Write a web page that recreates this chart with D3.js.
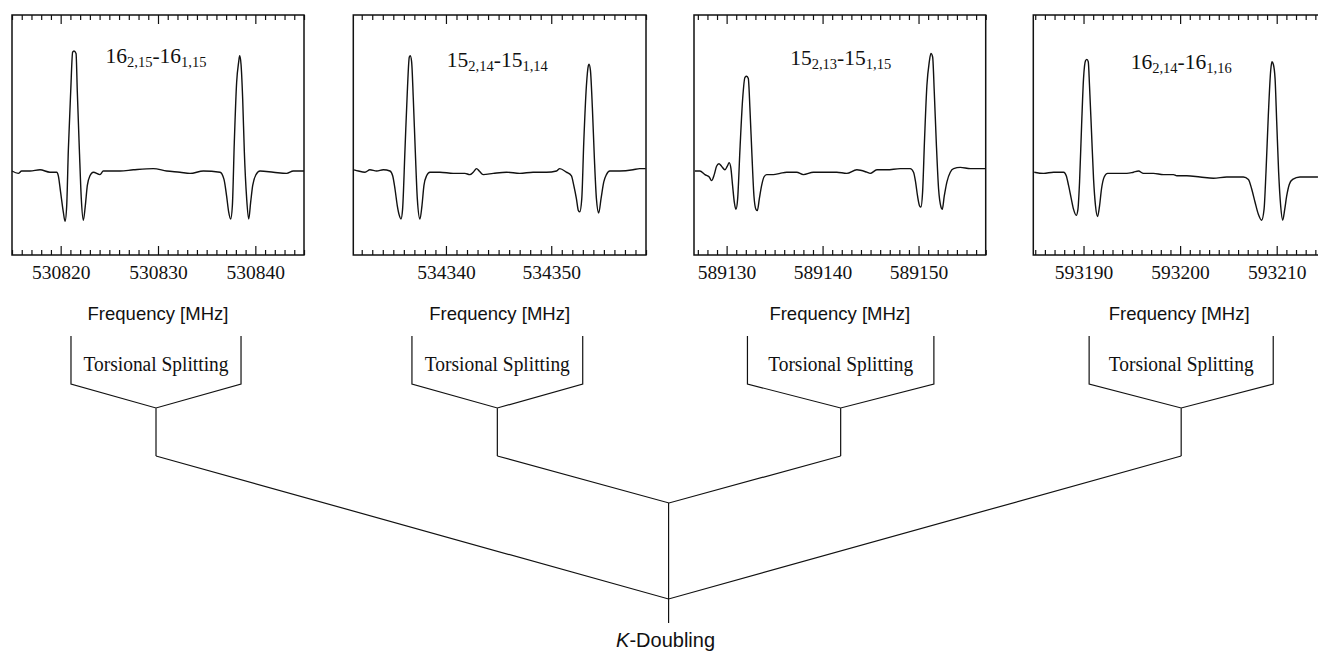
<!DOCTYPE html>
<html>
<head>
<meta charset="utf-8">
<script src="https://cdn.jsdelivr.net/npm/d3@7"></script>
<style>
  html, body { margin: 0; padding: 0; background: #fff; }
  svg { display: block; }
</style>
</head>
<body>
<svg id="chart" width="1318" height="652"></svg>
<script>
// ---------------- DATA ----------------
// Frequency windows (MHz) of the four spectra
const freqDomains = [
  [530815.0, 530845.0],
  [534331.2, 534359.0],
  [589126.6, 589157.0],
  [593184.8, 593215.0]
];
// Labelled (major) tick values
const majorTicks = [
  [530820, 530830, 530840],
  [534340, 534350],
  [589130, 589140, 589150],
  [593190, 593200, 593210]
];
// Transition labels: [J, Ka,Kc, J, Ka,Kc]
const transitionLabels = [
  ["16", "2,15", "16", "1,15"],
  ["15", "2,14", "15", "1,14"],
  ["15", "2,13", "15", "1,15"],
  ["16", "2,14", "16", "1,16"]
];
// Torsional components (MHz) of each transition (bracket legs)
const torsionalComponents = [
  [530821.06, 530838.53],
  [534336.77, 534352.99],
  [589132.17, 589151.60],
  [593190.58, 593209.64]
];
// K-doubling pairs (panel indices)
const kDoublingPairs = [[1, 2], [0, 3]];

// Spectra: [frequency MHz, intensity (arb. units, baseline 0)]
const spectrum1 = [
  [530815.00,0.00],[530815.65,-0.02],[530815.99,0.00],[530816.85,0.00],[530817.88,0.01],
  [530818.90,-0.01],[530819.59,-0.01],[530819.76,-0.04],[530820.00,-0.18],[530820.27,-0.34],
  [530820.45,-0.42],[530820.62,-0.29],[530820.79,0.18],[530821.03,0.66],[530821.23,0.99],
  [530821.37,1.00],[530821.58,0.98],[530821.71,0.66],[530821.92,0.18],[530822.12,-0.23],
  [530822.33,-0.41],[530822.53,-0.29],[530822.74,-0.12],[530823.01,-0.04],[530823.36,-0.01],
  [530824.04,-0.03],[530824.38,0.00],[530826.10,0.00],[530827.47,0.01],[530829.52,0.02],
  [530830.89,0.00],[530832.26,-0.01],[530833.29,-0.02],[530834.66,0.00],[530836.37,-0.01],
  [530836.78,-0.07],[530837.05,-0.21],[530837.26,-0.34],[530837.47,-0.40],[530837.64,-0.29],
  [530837.84,0.24],[530838.08,0.74],[530838.29,0.91],[530838.39,0.96],[530838.53,0.89],
  [530838.70,0.60],[530838.87,0.16],[530839.11,-0.23],[530839.32,-0.40],[530839.52,-0.26],
  [530839.73,-0.12],[530840.07,-0.03],[530840.48,0.00],[530841.85,-0.01],[530843.22,-0.02],
  [530843.90,0.00],[530845.00,0.00]
];
const spectrum2 = [
  [534331.27,0.01],[534331.68,0.00],[534332.31,-0.01],[534332.78,0.01],[534333.42,0.00],
  [534334.05,0.01],[534334.68,0.00],[534334.94,-0.04],[534335.16,-0.15],[534335.38,-0.29],
  [534335.57,-0.37],[534335.73,-0.40],[534335.88,-0.32],[534336.11,0.18],[534336.33,0.66],
  [534336.52,0.95],[534336.61,0.96],[534336.74,0.91],[534336.90,0.60],[534337.09,0.16],
  [534337.28,-0.23],[534337.53,-0.40],[534337.72,-0.29],[534337.91,-0.12],[534338.16,-0.04],
  [534338.48,-0.01],[534339.43,-0.01],[534340.69,-0.02],[534341.80,-0.02],[534342.27,-0.03],
  [534342.59,-0.01],[534342.91,0.02],[534343.16,0.00],[534343.54,-0.03],[534344.49,-0.02],
  [534345.75,-0.01],[534347.02,-0.02],[534348.28,-0.01],[534349.55,-0.01],[534350.50,0.00],
  [534350.81,0.02],[534351.44,-0.01],[534351.92,-0.04],[534352.14,-0.12],[534352.39,-0.23],
  [534352.58,-0.33],[534352.71,-0.34],[534352.90,-0.23],[534353.09,0.24],[534353.34,0.71],
  [534353.53,0.88],[534353.59,0.89],[534353.72,0.84],[534353.91,0.52],[534354.10,0.10],
  [534354.29,-0.23],[534354.51,-0.35],[534354.73,-0.23],[534354.99,-0.09],[534355.24,-0.03],
  [534355.56,0.00],[534356.50,0.00],[534357.77,0.01],[534358.40,0.02],[534358.97,0.02]
];
const spectrum3 = [
  [589126.69,0.00],[589127.21,0.00],[589127.74,-0.03],[589128.19,-0.05],[589128.43,-0.08],
  [589128.71,-0.03],[589128.95,0.04],[589129.20,0.06],[589129.47,0.04],[589129.82,0.01],
  [589130.07,0.04],[589130.27,0.07],[589130.45,0.02],[589130.62,-0.12],[589130.80,-0.26],
  [589130.97,-0.32],[589131.15,-0.23],[589131.39,0.18],[589131.67,0.60],[589131.91,0.78],
  [589132.09,0.79],[589132.26,0.77],[589132.43,0.52],[589132.64,0.13],[589132.85,-0.21],
  [589133.06,-0.32],[589133.20,-0.33],[589133.41,-0.23],[589133.65,-0.12],[589133.89,-0.05],
  [589134.17,-0.03],[589134.87,-0.03],[589135.56,-0.02],[589136.26,-0.01],[589137.30,-0.01],
  [589138.00,-0.03],[589139.04,-0.01],[589140.44,-0.01],[589141.48,-0.01],[589142.52,-0.02],
  [589143.57,0.01],[589144.61,-0.01],[589144.96,-0.02],[589145.66,0.01],[589146.70,0.01],
  [589148.09,0.02],[589149.13,0.02],[589149.48,-0.01],[589149.69,-0.09],[589149.90,-0.21],
  [589150.11,-0.29],[589150.25,-0.30],[589150.42,-0.18],[589150.63,0.27],[589150.87,0.71],
  [589151.12,0.91],[589151.29,0.98],[589151.47,0.95],[589151.64,0.66],[589151.85,0.24],
  [589152.09,-0.15],[589152.34,-0.30],[589152.47,-0.32],[589152.68,-0.21],[589152.96,-0.09],
  [589153.31,-0.01],[589153.66,0.02],[589154.35,0.03],[589155.40,0.02],[589156.09,0.02],
  [589156.96,0.02]
];
const spectrum4 = [
  [593184.90,-0.01],[593185.87,-0.02],[593186.90,-0.01],[593187.94,-0.01],[593188.21,-0.04],
  [593188.45,-0.12],[593188.73,-0.23],[593188.97,-0.32],[593189.25,-0.37],[593189.42,-0.32],
  [593189.59,-0.09],[593189.80,0.38],[593190.00,0.77],[593190.21,0.92],[593190.35,0.93],
  [593190.49,0.91],[593190.62,0.71],[593190.83,0.32],[593191.04,-0.07],[593191.24,-0.29],
  [593191.45,-0.38],[593191.66,-0.29],[593191.86,-0.15],[593192.14,-0.05],[593192.49,-0.02],
  [593193.45,-0.02],[593194.48,-0.02],[593195.17,-0.01],[593195.69,0.00],[593196.21,-0.02],
  [593197.24,-0.02],[593198.27,-0.03],[593199.31,-0.03],[593199.66,-0.04],[593200.69,-0.04],
  [593202.07,-0.05],[593203.45,-0.06],[593204.83,-0.05],[593206.55,-0.05],[593207.07,-0.07],
  [593207.41,-0.15],[593207.76,-0.26],[593208.10,-0.36],[593208.44,-0.41],[593208.69,-0.32],
  [593208.89,-0.01],[593209.13,0.46],[593209.38,0.84],[593209.51,0.91],[593209.65,0.89],
  [593209.83,0.77],[593210.00,0.41],[593210.20,-0.01],[593210.41,-0.29],[593210.62,-0.41],
  [593210.83,-0.32],[593211.03,-0.21],[593211.31,-0.11],[593211.65,-0.07],[593212.41,-0.05],
  [593213.44,-0.05],[593214.27,-0.05]
];
const spectra = [spectrum1, spectrum2, spectrum3, spectrum4];
const intensityDomain = [-0.7, 1.3];

const axisTitle = "Frequency [MHz]";
const splitLabel = "Torsional Splitting";
const rootLabel = ["K", "-Doubling"];

// ---------------- LAYOUT ----------------
const panelX = [[12, 304], [353.3, 646], [694, 985.7], [1033.3, 1325]];
const panelTop = 15, panelBottom = 255;
const titleBaseline = [63, 67, 65, 68.5];
const lv = { bTop: 336, bBot: 384, node: 408, stemBot: 456, inner: 503, outer: 599, rootBot: 623 };

const svg = d3.select("#chart");
const serif = "'Liberation Serif', 'Times New Roman', serif";
const sans = "'Liberation Sans', Arial, Helvetica, sans-serif";

const stems = [];

spectra.forEach((spec, i) => {
  const x = d3.scaleLinear().domain(freqDomains[i]).range(panelX[i]);
  const y = d3.scaleLinear().domain(intensityDomain).range([panelBottom, panelTop]);
  const g = svg.append("g");

  // minor ticks (1 MHz)
  const minor = d3.range(Math.ceil(freqDomains[i][0]), Math.floor(freqDomains[i][1]) + 1)
    .filter(v => !majorTicks[i].includes(v));

  const bottomMinor = g.append("g").attr("transform", `translate(0,${panelBottom})`)
    .call(d3.axisBottom(x).tickValues(minor).tickSize(-5).tickFormat(""));
  const topMinor = g.append("g").attr("transform", `translate(0,${panelTop})`)
    .call(d3.axisTop(x).tickValues(minor).tickSize(-5).tickFormat(""));
  const bottomMajor = g.append("g").attr("transform", `translate(0,${panelBottom})`)
    .call(d3.axisBottom(x).tickValues(majorTicks[i]).tickSize(-9).tickFormat(d3.format("d")));
  const topMajor = g.append("g").attr("transform", `translate(0,${panelTop})`)
    .call(d3.axisTop(x).tickValues(majorTicks[i]).tickSize(-9).tickFormat(""));
  [bottomMinor, topMinor, bottomMajor, topMajor].forEach(a => {
    a.select(".domain").remove();
    a.selectAll(".tick line").attr("stroke", "#111").attr("stroke-width", 1.2);
  });
  bottomMajor.selectAll(".tick text")
    .attr("y", 24).attr("dy", 0)
    .attr("font-family", serif).attr("font-size", 19.5).attr("fill", "#111");

  // frame
  g.append("rect")
    .attr("x", panelX[i][0]).attr("y", panelTop)
    .attr("width", panelX[i][1] - panelX[i][0]).attr("height", panelBottom - panelTop)
    .attr("fill", "none").attr("stroke", "#111").attr("stroke-width", 1.5);

  // spectrum
  g.append("path").datum(spec)
    .attr("d", d3.line().x(d => x(d[0])).y(d => y(d[1])).curve(d3.curveMonotoneX))
    .attr("fill", "none").attr("stroke", "#111").attr("stroke-width", 1.4)
    .attr("stroke-linejoin", "round");

  // transition label
  const [cx0, cx1] = torsionalComponents[i].map(x);
  const mid = (cx0 + cx1) / 2;
  const lab = transitionLabels[i];
  const t = g.append("text")
    .attr("x", mid).attr("y", titleBaseline[i])
    .attr("text-anchor", "middle")
    .attr("font-family", serif).attr("font-size", 21.5).attr("fill", "#111");
  t.append("tspan").text(lab[0]);
  t.append("tspan").attr("font-size", 14.5).attr("dy", 4).text(lab[1]);
  t.append("tspan").attr("dy", -4).text("-" + lab[2]);
  t.append("tspan").attr("font-size", 14.5).attr("dy", 4).text(lab[3]);

  // axis title
  g.append("text")
    .attr("x", (panelX[i][0] + panelX[i][1]) / 2).attr("y", 320)
    .attr("text-anchor", "middle")
    .attr("font-family", sans).attr("font-size", 18.5).attr("fill", "#111")
    .text(axisTitle);

  // torsional splitting bracket
  const tree = svg.append("g").attr("fill", "none").attr("stroke", "#111").attr("stroke-width", 1.2);
  tree.append("path").attr("d",
    `M${cx0},${lv.bTop}V${lv.bBot}L${mid},${lv.node}L${cx1},${lv.bBot}V${lv.bTop}` +
    `M${mid},${lv.node}V${lv.stemBot}`);
  svg.append("text")
    .attr("x", mid).attr("y", 371)
    .attr("text-anchor", "middle")
    .attr("font-family", serif).attr("font-size", 20).attr("fill", "#111")
    .attr("textLength", 145).attr("lengthAdjust", "spacingAndGlyphs")
    .text(splitLabel);
  stems.push(mid);
});

// K-doubling tree
const treeK = svg.append("g").attr("fill", "none").attr("stroke", "#111").attr("stroke-width", 1.2);
const levels = [lv.inner, lv.outer];
let rootX = 0;
kDoublingPairs.forEach((p, k) => {
  const a = stems[p[0]], b = stems[p[1]];
  const m = (a + b) / 2;
  rootX = m;
  treeK.append("path").attr("d", `M${a},${lv.stemBot}L${m},${levels[k]}L${b},${lv.stemBot}`);
});
treeK.append("path").attr("d", `M${rootX},${lv.inner}V${lv.rootBot}`);

const kt = svg.append("text")
  .attr("x", rootX - 3).attr("y", 647)
  .attr("text-anchor", "middle")
  .attr("font-family", sans).attr("font-size", 20).attr("fill", "#111");
kt.append("tspan").attr("font-style", "italic").text(rootLabel[0]);
kt.append("tspan").text(rootLabel[1]);
</script>
</body>
</html>
